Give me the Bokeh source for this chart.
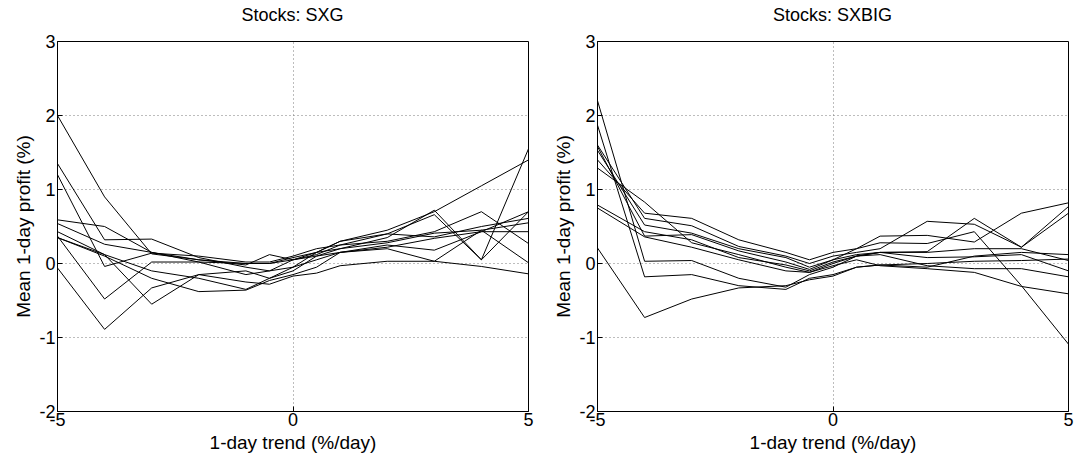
from bokeh.plotting import figure
from bokeh.models import Range1d, FixedTicker, Div
from bokeh.layouts import row, column
from bokeh.embed import file_html
from bokeh.resources import INLINE

# ---------------- data ----------------
trend = [-5, -4, -3, -2, -1, -0.5, 0, 0.5, 1, 2, 3, 4, 5]

x_ticks = [-5, 0, 5]
x_tick_labels = ["-5", "0", "5"]
y_ticks = [-2, -1, 0, 1, 2, 3]
y_tick_labels = ["-2", "-1", "0", "1", "2", "3"]

titles = ["Stocks: SXG", "Stocks: SXBIG"]
x_label = "1-day trend (%/day)"
y_label = "Mean 1-day profit (%)"

# SXG panel
sxg_1 = [2.00, 0.90, 0.13, 0.05, 0.00, 0.00, 0.08, 0.15, 0.20, 0.35, 0.72, 0.05, 1.55]
sxg_2 = [1.35, 0.32, 0.33, 0.08, -0.05, -0.10, 0.05, 0.15, 0.30, 0.45, 0.70, 1.05, 1.40]
sxg_3 = [1.20, -0.04, 0.14, 0.10, 0.02, 0.02, 0.10, 0.20, 0.25, 0.40, 0.66, 0.05, 0.70]
sxg_4 = [0.59, 0.50, 0.15, 0.05, -0.02, 0.12, 0.05, 0.12, 0.25, 0.30, 0.43, 0.70, 0.27]
sxg_5 = [0.54, 0.26, 0.15, 0.02, -0.15, -0.10, -0.05, 0.15, 0.30, 0.40, 0.36, 0.50, 0.61]
sxg_6 = [0.43, 0.12, -0.10, -0.20, -0.35, -0.20, -0.10, 0.10, 0.20, 0.28, 0.41, 0.45, 0.01]
sxg_7 = [0.37, -0.48, 0.02, 0.02, 0.00, 0.00, 0.05, 0.10, 0.15, 0.22, 0.34, 0.43, 0.43]
sxg_8 = [0.35, 0.12, -0.55, -0.15, -0.10, -0.20, -0.05, 0.05, 0.15, 0.25, 0.18, 0.43, 0.70]
sxg_9 = [0.35, 0.10, -0.20, -0.38, -0.36, -0.23, -0.15, -0.05, 0.15, 0.20, 0.03, -0.04, -0.14]
sxg_10 = [-0.06, -0.89, -0.33, -0.15, -0.25, -0.28, -0.17, -0.13, -0.03, 0.03, 0.03, 0.45, 0.55]

# SXBIG panel
sxbig_1 = [2.20, 0.03, 0.04, -0.20, -0.32, -0.15, -0.05, 0.10, 0.15, 0.15, 0.20, 0.20, 0.04]
sxbig_2 = [1.87, -0.18, -0.15, -0.30, -0.35, -0.20, -0.15, -0.05, -0.02, -0.05, 0.10, 0.15, 0.12]
sxbig_3 = [1.60, 0.61, 0.51, 0.23, 0.10, 0.00, 0.10, 0.15, 0.20, 0.57, 0.53, 0.22, 0.77]
sxbig_4 = [1.58, 0.37, 0.39, 0.17, 0.02, -0.08, 0.05, 0.12, 0.15, 0.16, 0.61, 0.22, 0.68]
sxbig_5 = [1.53, 0.52, 0.41, 0.20, 0.08, -0.05, 0.05, 0.20, 0.37, 0.38, 0.29, 0.68, 0.82]
sxbig_6 = [1.40, 0.68, 0.61, 0.32, 0.15, 0.05, 0.15, 0.20, 0.28, 0.27, 0.43, -0.30, -1.09]
sxbig_7 = [1.29, 0.83, 0.28, 0.12, -0.05, -0.12, 0.00, 0.10, 0.15, 0.08, 0.09, 0.12, -0.10]
sxbig_8 = [0.79, 0.43, 0.32, 0.08, -0.02, -0.10, 0.02, 0.10, 0.12, -0.03, -0.07, -0.07, -0.18]
sxbig_9 = [0.75, 0.36, 0.22, 0.05, -0.10, -0.12, -0.03, 0.05, -0.03, -0.07, -0.12, -0.31, -0.41]
sxbig_10 = [0.21, -0.73, -0.48, -0.33, -0.30, -0.22, -0.17, -0.05, -0.02, 0.00, 0.03, 0.04, 0.06]

sxg_series = [sxg_1, sxg_2, sxg_3, sxg_4, sxg_5, sxg_6, sxg_7, sxg_8, sxg_9, sxg_10]
sxbig_series = [sxbig_1, sxbig_2, sxbig_3, sxbig_4, sxbig_5, sxbig_6, sxbig_7, sxbig_8, sxbig_9, sxbig_10]

FONT = "Liberation Sans"
TITLE_H = 26
FIG_H = 434


def make_panel(title, series, width, border_left, border_right):
    p = figure(width=width, height=FIG_H, output_backend="svg", toolbar_location=None,
               x_range=Range1d(-5, 5), y_range=Range1d(-2, 3),
               min_border_left=border_left, min_border_right=border_right,
               min_border_top=15, min_border_bottom=49)
    p.outline_line_color = "black"
    p.outline_line_width = 1
    p.outline_line_alpha = 1
    p.background_fill_color = "white"
    p.border_fill_color = "white"

    for ys in series:
        p.line(trend, ys, line_color="black", line_width=1)

    p.xaxis.ticker = FixedTicker(ticks=x_ticks)
    p.yaxis.ticker = FixedTicker(ticks=y_ticks)
    p.xaxis.major_label_overrides = dict(zip(x_ticks, x_tick_labels))
    p.yaxis.major_label_overrides = dict(zip(y_ticks, y_tick_labels))
    for ax in p.xaxis + p.yaxis:
        ax.axis_line_color = "black"
        ax.major_tick_in = 5
        ax.major_tick_out = 0
        ax.minor_tick_in = 0
        ax.minor_tick_out = 0
        ax.major_tick_line_color = "black"
        ax.major_label_text_font = FONT
        ax.major_label_text_font_size = "18px"
        ax.major_label_text_color = "black"
        ax.axis_label_text_font = FONT
        ax.axis_label_text_font_size = "19px"
        ax.axis_label_text_font_style = "normal"
        ax.axis_label_text_color = "black"
    p.xaxis.axis_label = x_label
    p.yaxis.axis_label = y_label
    p.xaxis.major_label_standoff = 1
    p.xaxis.axis_label_standoff = 3
    p.yaxis.major_label_standoff = 2
    p.yaxis.axis_label_standoff = 2

    p.xgrid.ticker = FixedTicker(ticks=x_ticks)
    p.ygrid.ticker = FixedTicker(ticks=y_ticks)
    p.grid.grid_line_color = "#7a7a7a"
    p.grid.grid_line_dash = "1 3"
    p.grid.grid_line_width = 1

    frame_w = width - border_left - border_right
    head = Div(
        text=(f'<div style="width:{frame_w}px; margin-left:{border_left}px; padding-top:5px; '
              f'text-align:center; font-family:\'{FONT}\'; font-size:18px; line-height:20px; '
              f'color:black; white-space:nowrap;">{title}</div>'),
        width=width, height=TITLE_H, margin=0)
    return column(head, p, spacing=0)


c1 = make_panel(titles[0], sxg_series, 548, 57, 20)
c2 = make_panel(titles[1], sxbig_series, 526, 49, 6)

layout = row(c1, c2, spacing=0)
open("out.html", "w").write(file_html(layout, INLINE))
